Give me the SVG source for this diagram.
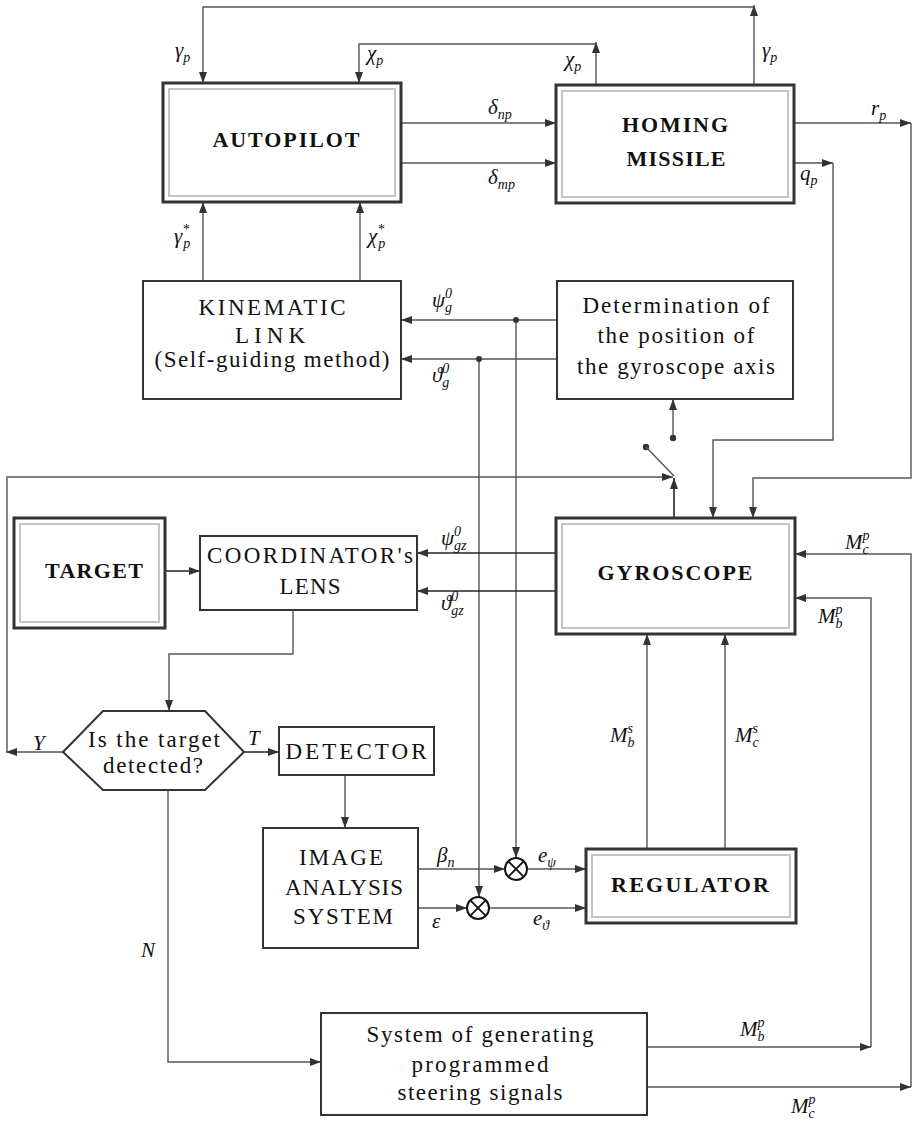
<svg xmlns="http://www.w3.org/2000/svg" width="914" height="1121" viewBox="0 0 914 1121">
<defs>
<marker id="ar" markerUnits="userSpaceOnUse" markerWidth="12" markerHeight="8" refX="11" refY="4" orient="auto"><path d="M0,0 L11,4 L0,8 z" fill="#333"/></marker>
<style>
.box{fill:#fff;stroke:#333;stroke-width:2}
.ob{fill:#fff;stroke:#333;stroke-width:3}
.ib{fill:none;stroke:#c4c4c4;stroke-width:2}
.ln{fill:none;stroke:#555;stroke-width:1.4;marker-end:url(#ar)}
.nl{fill:none;stroke:#555;stroke-width:1.4}
.lk{fill:none;stroke:#222;stroke-width:1.6;marker-end:url(#ar)}
.t{font-family:"Liberation Serif",serif;font-size:23px;fill:#111;text-anchor:middle}
.b{font-family:"Liberation Serif",serif;font-size:22px;font-weight:bold;fill:#111;text-anchor:middle}
.m{font-family:"Liberation Serif","DejaVu Serif",serif;font-size:21px;font-style:italic;fill:#111}
.s{font-size:14px}
.dot{fill:#333}
</style>
</defs>

<g id="connectors">
<path class="ln" d="M754,85 V5"/>
<path class="ln" d="M754,7 H203 V83"/>
<path class="ln" d="M596,85 V42"/>
<path class="ln" d="M596,44 H359 V83"/>
<path class="ln" d="M401,123 H556"/>
<path class="ln" d="M401,163 H556"/>
<path class="ln" d="M794,123 H911"/>
<path class="ln" d="M911,123 V478 H753 V518"/>
<path class="ln" d="M794,163 H833"/>
<path class="ln" d="M833,163 V440 H713 V518"/>
<path class="ln" d="M203,281 V202"/>
<path class="ln" d="M360,281 V202"/>
<path class="ln" d="M557,320 H401"/>
<path class="ln" d="M557,359 H401"/>
<path class="ln" d="M516,320 V858"/>
<path class="ln" d="M479,359 V897"/>
<circle class="dot" cx="516" cy="320" r="3"/>
<circle class="dot" cx="479" cy="359" r="3"/>
<path class="ln" d="M673,436 V399"/>
<circle class="dot" cx="673" cy="438" r="3.2"/>
<circle class="dot" cx="646" cy="447" r="3.2"/>
<path class="nl" d="M646,447 L674,476"/>
<path class="lk" d="M674,518 V478"/>
<path class="ln" d="M63,752 H6"/>
<path class="ln" d="M7,752 V477 H673"/>
<path class="lk" d="M556,553 H417"/>
<path class="lk" d="M556,591 H417"/>
<path class="lk" d="M165,571 H200"/>
<path class="ln" d="M293,610 V654 H169 V711"/>
<path class="lk" d="M244,752 H279"/>
<path class="ln" d="M345,775 V828"/>
<path class="ln" d="M418,869 H505"/>
<path class="ln" d="M418,908 H467"/>
<path class="ln" d="M527,869 H586"/>
<path class="ln" d="M489,908 H586"/>
<path class="ln" d="M647,849 V634"/>
<path class="ln" d="M725,849 V634"/>
<path class="ln" d="M168,790 V1062 H321"/>
<path class="ln" d="M647,1047 H871"/>
<path class="ln" d="M871,1047 V598 H795"/>
<path class="ln" d="M647,1087 H911"/>
<path class="ln" d="M911,1087 V554 H795"/>
</g>

<g id="labels">
<text class="m" x="175" y="57">γ<tspan class="s" dy="5">p</tspan></text>
<text class="m" x="367" y="60">χ<tspan class="s" dy="5">p</tspan></text>
<text class="m" x="565" y="66">χ<tspan class="s" dy="5">p</tspan></text>
<text class="m" x="762" y="57">γ<tspan class="s" dy="5">p</tspan></text>
<text class="m" x="488" y="114">δ<tspan class="s" dy="5">np</tspan></text>
<text class="m" x="488" y="184">δ<tspan class="s" dy="5">mp</tspan></text>
<text class="m" x="871" y="115">r<tspan class="s" dy="5">p</tspan></text>
<text class="m" x="800" y="180">q<tspan class="s" dy="5">p</tspan></text>
<text class="m" x="174" y="243">γ<tspan class="s" dy="-9">*</tspan><tspan class="s" dx="-6" dy="14">p</tspan></text>
<text class="m" x="368" y="243">χ<tspan class="s" dy="-9">*</tspan><tspan class="s" dx="-6" dy="14">p</tspan></text>
<text class="m" x="432" y="307">ψ<tspan class="s" dy="-9">0</tspan><tspan class="s" dx="-7" dy="14">g</tspan></text>
<text class="m" x="432" y="382">ϑ<tspan class="s" dy="-9">0</tspan><tspan class="s" dx="-7" dy="14">g</tspan></text>
<text class="m" x="441" y="545">ψ<tspan class="s" dy="-9">0</tspan><tspan class="s" dx="-7" dy="14">gz</tspan></text>
<text class="m" x="441" y="610">ϑ<tspan class="s" dy="-9">0</tspan><tspan class="s" dx="-7" dy="14">gz</tspan></text>
<text class="m" x="33" y="750">Y</text>
<text class="m" x="248" y="745">T</text>
<text class="m" x="437" y="862">β<tspan class="s" dy="5">n</tspan></text>
<text class="m" x="538" y="862">e<tspan class="s" dy="5">ψ</tspan></text>
<text class="m" x="432" y="928">ε</text>
<text class="m" x="533" y="925">e<tspan class="s" dy="5">ϑ</tspan></text>
<text class="m" x="610" y="742">M<tspan class="s" dy="-9">s</tspan><tspan class="s" dx="-5.5" dy="14">b</tspan></text>
<text class="m" x="735" y="742">M<tspan class="s" dy="-9">s</tspan><tspan class="s" dx="-5.5" dy="14">c</tspan></text>
<text class="m" x="845" y="549">M<tspan class="s" dy="-9">p</tspan><tspan class="s" dx="-7" dy="14">c</tspan></text>
<text class="m" x="818" y="623">M<tspan class="s" dy="-9">p</tspan><tspan class="s" dx="-7" dy="14">b</tspan></text>
<text class="m" x="740" y="1036">M<tspan class="s" dy="-9">p</tspan><tspan class="s" dx="-7" dy="14">b</tspan></text>
<text class="m" x="791" y="1113">M<tspan class="s" dy="-9">p</tspan><tspan class="s" dx="-7" dy="14">c</tspan></text>
<text class="m" x="141" y="957">N</text>
</g>

<g id="autopilot">
<rect class="ob" x="163" y="83" width="238" height="119"/>
<rect class="ib" x="169" y="89" width="226" height="107"/>
<text class="b" x="286" y="147" textLength="147">AUTOPILOT</text>
</g>
<g id="homing-missile">
<rect class="ob" x="556" y="85" width="238" height="118"/>
<rect class="ib" x="562" y="91" width="226" height="106"/>
<text class="b" x="675" y="132" textLength="106">HOMING</text>
<text class="b" x="676" y="166" textLength="99">MISSILE</text>
</g>
<g id="kinematic-link">
<rect class="box" x="143" y="281" width="258" height="118"/>
<text class="t" x="272" y="315" textLength="147">KINEMATIC</text>
<text class="t" x="270" y="343" textLength="70">LINK</text>
<text class="t" x="272" y="367" textLength="235">(Self-guiding method)</text>
</g>
<g id="determination">
<rect class="box" x="557" y="281" width="236" height="118"/>
<text class="t" x="676" y="313" textLength="187">Determination of</text>
<text class="t" x="676" y="343" textLength="157">the position of</text>
<text class="t" x="676" y="374" textLength="198">the gyroscope axis</text>
</g>
<g id="target">
<rect class="ob" x="14" y="518" width="151" height="110"/>
<rect class="ib" x="20" y="524" width="139" height="98"/>
<text class="b" x="94" y="578" textLength="98">TARGET</text>
</g>
<g id="coordinator-lens">
<rect class="box" x="200" y="536" width="217" height="74"/>
<text class="t" x="310" y="563" textLength="206">COORDINATOR's</text>
<text class="t" x="310" y="594" textLength="61">LENS</text>
</g>
<g id="gyroscope">
<rect class="ob" x="556" y="518" width="239" height="116"/>
<rect class="ib" x="562" y="524" width="227" height="104"/>
<text class="b" x="675" y="580" textLength="155">GYROSCOPE</text>
</g>
<g id="decision">
<polygon points="63,752 103,711 205,711 244,752 205,790 103,790" fill="#fff" stroke="#333" stroke-width="2"/>
<text class="t" x="154" y="747" textLength="132">Is the target</text>
<text class="t" x="153" y="773" textLength="100">detected?</text>
</g>
<g id="detector">
<rect class="box" x="279" y="727" width="155" height="48"/>
<text class="t" x="356" y="759" textLength="141">DETECTOR</text>
</g>
<g id="image-analysis">
<rect class="box" x="263" y="828" width="155" height="120"/>
<text class="t" x="341" y="865" textLength="84">IMAGE</text>
<text class="t" x="344" y="895" textLength="118">ANALYSIS</text>
<text class="t" x="343" y="924" textLength="100">SYSTEM</text>
</g>
<g id="sum-psi">
<circle cx="516" cy="869" r="11" fill="#fff" stroke="#111" stroke-width="2"/>
<path d="M508.2,861.2 L523.8,876.8 M523.8,861.2 L508.2,876.8" stroke="#111" stroke-width="1.8"/>
</g>
<g id="sum-theta">
<circle cx="478" cy="908" r="11" fill="#fff" stroke="#111" stroke-width="2"/>
<path d="M470.2,900.2 L485.8,915.8 M485.8,900.2 L470.2,915.8" stroke="#111" stroke-width="1.8"/>
</g>
<g id="regulator">
<rect class="ob" x="586" y="849" width="210" height="74"/>
<rect class="ib" x="592" y="855" width="198" height="62"/>
<text class="b" x="690" y="892" textLength="158">REGULATOR</text>
</g>
<g id="programmed-signals">
<rect class="box" x="321" y="1013" width="326" height="102"/>
<text class="t" x="480" y="1042" textLength="227">System of generating</text>
<text class="t" x="480" y="1072" textLength="137">programmed</text>
<text class="t" x="480" y="1100" textLength="165">steering signals</text>
</g>
</svg>
